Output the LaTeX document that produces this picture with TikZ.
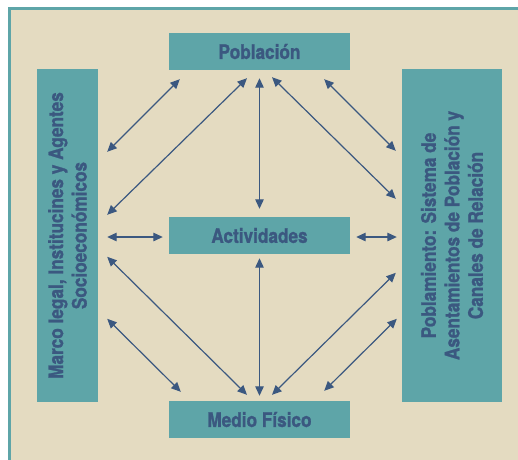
\documentclass[tikz,border=0pt]{standalone}
\usepackage{fontspec}
\usetikzlibrary{arrows.meta,calc}
\newfontfamily\labelfont{TeX Gyre Heros}[FakeStretch=0.86, BoldFeatures={FakeBold=1.2}]

\definecolor{paper}{RGB}{228,219,193}
\definecolor{tealbox}{RGB}{94,165,168}
\definecolor{navy}{RGB}{59,88,128}

\tikzset{
  box/.style={fill=tealbox, draw=none, inner sep=0pt},
  boxtext/.style={text=navy, font=\labelfont\bfseries\fontsize{20}{23.5}\selectfont,
                  align=center, inner sep=0pt},
  link/.style={draw=navy, line width=1.2pt,
               {Triangle[length=9.5pt,width=8.5pt]}-{Triangle[length=9.5pt,width=8.5pt]}}
}

\begin{document}
\begin{tikzpicture}[x=1pt,y=-1pt]
  \useasboundingbox (0,0) rectangle (518,459);
  \fill[white] (0,0) rectangle (518,459);
  \begin{scope}
    \clip (0,0) rectangle (518,459);
    \draw[fill=paper, draw=tealbox, line width=2.7pt] (9.3,8.6) rectangle (540,480);
  \end{scope}

  % central column
  \node[box, minimum width=181pt, minimum height=37pt] (pob) at (259.5,51.5) {};
  \node[boxtext] at (pob.center) {Población};
  \node[box, minimum width=181pt, minimum height=37pt] (act) at (259.5,235.5) {};
  \node[boxtext] at (act.center) {Actividades};
  \node[box, minimum width=181pt, minimum height=37pt] (med) at (259.5,419.5) {};
  \node[boxtext] at (med.center) {Medio Físico};

  % side columns
  \node[box, minimum width=61pt, minimum height=333pt] (mar) at (67.5,235.5) {};
  \node[boxtext, rotate=90] at (mar.center) {Marco legal, Institucines y Agentes\\Socioeconómicos};
  \node[box, minimum width=100pt, minimum height=333pt] (pobl) at (452,235.5) {};
  \node[boxtext, rotate=90] at (pobl.center) {Poblamiento: Sistema de\\Asentamientos de Población y\\Canales de Relación};

  % relations with Población
  \draw[link] ($(mar.north east)+(9,83)$)  -- ($(pob.south west)+(11,9)$);
  \draw[link] ($(mar.north east)+(9,146)$) -- ($(pob.south)+(-12.5,8)$);
  \draw[link] ($(pob.south)+(0,8)$)        -- ($(act.north)+(0,-8)$);
  \draw[link] ($(pob.south)+(12.5,7)$)     -- ($(pobl.north west)+(-6,130)$);
  \draw[link] ($(pob.south east)+(-26,9)$) -- ($(pobl.north west)+(-6,82)$);

  % relations with Actividades
  \draw[link] ($(mar.east)+(9,1.5)$) -- ($(act.west)+(-6,1.5)$);
  \draw[link] ($(act.east)+(6,1.5)$) -- ($(pobl.west)+(-5,1.5)$);

  % relations with Medio Físico
  \draw[link] ($(mar.north east)+(9,188)$) -- ($(med.north)+(-12.5,-6)$);
  \draw[link] ($(mar.north east)+(9,250)$) -- ($(med.north west)+(12,-9)$);
  \draw[link] ($(act.south)+(0,4)$)        -- ($(med.north)+(0,-5)$);
  \draw[link] ($(med.north)+(12.5,-6)$)    -- ($(pobl.north west)+(-6,204)$);
  \draw[link] ($(med.north east)+(-26,-10)$) -- ($(pobl.north west)+(-5,250)$);
\end{tikzpicture}
\end{document}
